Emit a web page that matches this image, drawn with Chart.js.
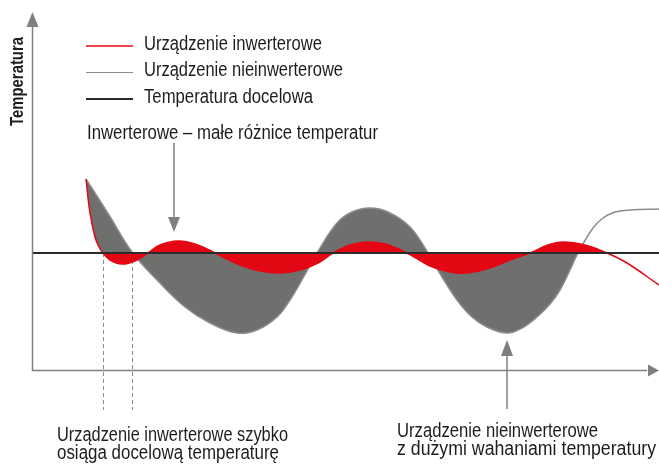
<!DOCTYPE html>
<html lang="pl">
<head>
<meta charset="utf-8">
<script src="https://cdn.jsdelivr.net/npm/chart.js@4/dist/chart.umd.min.js"></script>
<style>
  html, body { margin: 0; padding: 0; background: #fff; }
  canvas { display: block; }
</style>
</head>
<body>
<canvas id="wykres" width="659" height="466"></canvas>
<script>
// czas (umowne minuty) i temperatura (umowne °C)
const tempDocelowa = 20;
const zakresCzasu = [0, 62.6];
const zakresTemp = [8.2, 44.1];

const czasInw = [5.3, 5.7, 6.2, 6.6, 7.0, 7.7, 8.9, 10.2, 11.5, 12.7, 14.5, 16.2, 18.2, 20.7, 22.7, 24.7, 26.7, 28.5, 30.0, 31.7, 33.4, 35.2, 37.4, 39.7, 41.7, 43.4, 45.7, 47.7, 49.7, 51.5, 53.0, 55.2, 57.4, 59.4, 62.6];
const tempInw = [27.4, 24.0, 21.6, 20.6, 20.0, 19.3, 18.9, 19.2, 20.0, 20.8, 21.2, 20.9, 20.0, 18.8, 18.2, 18.0, 18.3, 19.0, 20.0, 20.8, 21.1, 20.9, 20.0, 18.7, 18.1, 18.0, 18.5, 19.3, 20.0, 20.8, 21.1, 20.8, 20.0, 19.0, 16.8];

const czasNie = [5.3, 7.6, 9.9, 12.5, 15.2, 17.7, 20.4, 22.4, 24.4, 25.7, 27.0, 28.4, 30.4, 31.9, 33.7, 35.5, 37.7, 39.5, 40.9, 42.4, 43.9, 45.4, 47.4, 48.9, 50.4, 51.7, 52.7, 53.7, 54.5, 56.0, 57.0, 58.2, 59.7, 62.6];
const tempNie = [27.4, 23.8, 20.1, 17.2, 14.6, 13.0, 12.0, 12.3, 13.6, 15.3, 17.5, 20.0, 23.0, 24.1, 24.5, 24.1, 22.6, 20.0, 17.6, 15.3, 13.6, 12.6, 12.0, 12.5, 13.6, 14.9, 16.3, 18.3, 20.0, 22.5, 23.5, 24.1, 24.3, 24.4];

// zakres wypełnienia (czas)
const wypelnienieInw = [7.0, 57.4];
const wypelnienieNie = [5.3, 54.5];

const etykietyLegendy = ['Urządzenie inwerterowe', 'Urządzenie nieinwerterowe', 'Temperatura docelowa'];
const tytulOsiY = 'Temperatura';
const opisGora = 'Inwerterowe – małe różnice temperatur';
const opisLewy = ['Urządzenie inwerterowe szybko', 'osiąga docelową temperaturę'];
const opisPrawy = ['Urządzenie nieinwerterowe', 'z dużymi wahaniami temperatury'];
const liniePrzerywane = [7.0, 9.9];
const strzalkaGora = 14.1;
const strzalkaDol = 47.4;

const CZERWONY = '#e30613';
const SZARY_LINIA = '#8c8c8c';
const SZARY_WYP = '#6f6f6e';
const CIEMNY = '#2b2b2b';
const OS = '#7f7f7f';
const TEKST = '#1d1d1b';
const FONT = '"Liberation Sans", Arial, sans-serif';

const pary = (xs, ys) => xs.map((x, i) => ({ x, y: ys[i] }));
const wZakresie = (zakres, kolor) => ctx =>
  (ctx.p0.parsed.x >= zakres[0] && ctx.p1.parsed.x <= zakres[1]) ? kolor : 'rgba(0,0,0,0)';

function grot(ctx, x, y, kierunek, dl, szer) {
  ctx.beginPath();
  if (kierunek === 'gora') { ctx.moveTo(x, y); ctx.lineTo(x - szer, y + dl); ctx.lineTo(x + szer, y + dl); }
  if (kierunek === 'dol') { ctx.moveTo(x, y); ctx.lineTo(x - szer, y - dl); ctx.lineTo(x + szer, y - dl); }
  if (kierunek === 'prawo') { ctx.moveTo(x, y); ctx.lineTo(x - dl, y - szer); ctx.lineTo(x - dl, y + szer); }
  ctx.closePath();
  ctx.fill();
}

// krój wąski: zwykły Liberation Sans ściśnięty do szerokości z oryginału
function napis(ctx, txt, x, y, font, szer) {
  ctx.save();
  ctx.font = font;
  const sx = szer / ctx.measureText(txt).width;
  ctx.translate(x, y);
  ctx.scale(sx, 1);
  ctx.fillText(txt, ctx.textAlign === 'center' ? 0 : 0, 0);
  ctx.restore();
}

const tlo = {
  id: 'tlo',
  beforeDatasetsDraw(chart) {
    const { ctx, scales: { x, y } } = chart;
    ctx.save();
    ctx.strokeStyle = '#8a8a8a';
    ctx.lineWidth = 1;
    ctx.setLineDash([4, 3]);
    liniePrzerywane.forEach(t => {
      const px = Math.round(x.getPixelForValue(t)) + 0.5;
      ctx.beginPath();
      ctx.moveTo(px, y.getPixelForValue(tempDocelowa));
      ctx.lineTo(px, 410);
      ctx.stroke();
    });
    ctx.restore();
  }
};

const dekoracje = {
  id: 'dekoracje',
  afterDraw(chart) {
    const { ctx, chartArea: a, scales: { x } } = chart;
    ctx.save();
    // osie
    ctx.strokeStyle = OS;
    ctx.fillStyle = OS;
    ctx.lineWidth = 1.5;
    ctx.beginPath();
    ctx.moveTo(a.left - 0.5, a.bottom);
    ctx.lineTo(a.left - 0.5, a.top + 14);
    ctx.moveTo(a.left - 1, a.bottom - 0.5);
    ctx.lineTo(a.right - 12, a.bottom - 0.5);
    ctx.stroke();
    grot(ctx, a.left - 0.5, a.top, 'gora', 15, 6);
    grot(ctx, a.right, a.bottom - 0.5, 'prawo', 11, 6);

    // strzałki opisów
    ctx.lineWidth = 1.5;
    const xg = x.getPixelForValue(strzalkaGora);
    ctx.beginPath(); ctx.moveTo(xg, 143); ctx.lineTo(xg, 218); ctx.stroke();
    grot(ctx, xg, 232, 'dol', 15, 6);
    const xd = x.getPixelForValue(strzalkaDol);
    ctx.beginPath(); ctx.moveTo(xd, 409); ctx.lineTo(xd, 355); ctx.stroke();
    grot(ctx, xd, 340, 'gora', 16, 6);

    // legenda
    const styleLegendy = [[CZERWONY, 1.5], [SZARY_LINIA, 1], [CIEMNY, 2]];
    const szerLegendy = [178, 199, 169];
    etykietyLegendy.forEach((txt, i) => {
      const yl = 46 + i * 26.5;
      ctx.strokeStyle = styleLegendy[i][0];
      ctx.lineWidth = styleLegendy[i][1];
      ctx.beginPath(); ctx.moveTo(86, yl); ctx.lineTo(133, yl); ctx.stroke();
      ctx.fillStyle = TEKST;
      napis(ctx, txt, 144, yl + 3.5, '20px ' + FONT, szerLegendy[i]);
    });

    // teksty
    ctx.fillStyle = TEKST;
    napis(ctx, opisGora, 87, 139, '20px ' + FONT, 291);
    [231, 222].forEach((s, i) => napis(ctx, opisLewy[i], 57, 441 + i * 18, '20px ' + FONT, s));
    [201, 259].forEach((s, i) => napis(ctx, opisPrawy[i], 397, 437 + i * 18, '20px ' + FONT, s));

    // tytuł osi Y
    ctx.translate(23, 126);
    ctx.rotate(-Math.PI / 2);
    napis(ctx, tytulOsiY, 0, 0, 'bold 18px ' + FONT, 89);
    ctx.restore();
  }
};

new Chart(document.getElementById('wykres'), {
  type: 'line',
  data: {
    datasets: [
      {
        label: etykietyLegendy[2],
        data: pary(zakresCzasu, [tempDocelowa, tempDocelowa]),
        borderColor: CIEMNY, borderWidth: 2, pointRadius: 0, fill: false
      },
      {
        label: etykietyLegendy[0],
        data: pary(czasInw, tempInw),
        borderColor: CZERWONY, borderWidth: 1.5, pointRadius: 0,
        tension: 0.4,
        backgroundColor: CZERWONY,
        fill: 0,
        segment: { backgroundColor: wZakresie(wypelnienieInw, CZERWONY) }
      },
      {
        label: etykietyLegendy[1],
        data: pary(czasNie, tempNie),
        borderColor: SZARY_LINIA, borderWidth: 1.5, pointRadius: 0,
        tension: 0.4,
        backgroundColor: SZARY_WYP,
        fill: 1,
        segment: { backgroundColor: wZakresie(wypelnienieNie, SZARY_WYP) }
      }
    ]
  },
  options: {
    responsive: false,
    animation: false,
    devicePixelRatio: 1,
    layout: { padding: { left: 33, right: 0, top: 12, bottom: 95 } },
    scales: {
      x: { type: 'linear', min: zakresCzasu[0], max: zakresCzasu[1], display: false },
      y: { min: zakresTemp[0], max: zakresTemp[1], display: false }
    },
    plugins: { legend: { display: false }, tooltip: { enabled: false } }
  },
  plugins: [tlo, dekoracje]
});
</script>
</body>
</html>
